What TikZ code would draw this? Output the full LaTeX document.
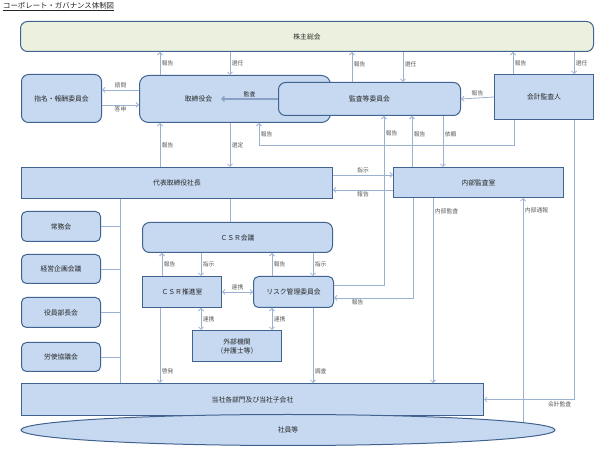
\documentclass[tikz,border=0pt]{standalone}
\usepackage{fontspec}
\setmainfont{Noto Sans CJK JP}
\usetikzlibrary{arrows.meta,shapes.geometric}
\pgfdeclarelayer{haikei}
\pgfsetlayers{haikei,main}
\definecolor{aoi}{HTML}{C6D9F1}
\definecolor{midori}{HTML}{EBF1DE}
\definecolor{waku}{HTML}{41638F}
\definecolor{senn}{HTML}{9BB1D1}
\definecolor{moji}{HTML}{262626}
\definecolor{usumoji}{HTML}{595959}
\begin{document}
\begin{tikzpicture}[
    x=1pt, y=-1pt,
    >={Straight Barb[length=2.5pt,width=5pt]},
    kaku/.style={draw=waku, fill=aoi, line width=1pt, anchor=north west, inner sep=1pt,
      font=\fontsize{6.8}{9}\selectfont, text=moji},
    maru/.style={kaku, rounded corners=7pt},
    komaru/.style={kaku, rounded corners=5pt},
    sen/.style={draw=senn, line width=0.8pt},
    ran/.style={font=\fontsize{5.8}{7}\selectfont, text=usumoji, inner sep=1.5pt}
  ]

    \useasboundingbox (0,0) rectangle (606,462);

    % --- Título ---
    \node[anchor=north west, inner sep=0pt, font=\fontsize{7.4}{9}\selectfont, text=moji]
      (midashi) at (3,2) {\underline{コーポレート・ガバナンス体制図}};

    % --- Cajas superiores ---
    \node[maru, fill=midori, minimum width=573pt, minimum height=30pt] (kabunushi) at (20,21) {株主総会};
    \node[maru, minimum width=80pt, minimum height=48pt] (shimei) at (21,74) {指名・報酬委員会};
    \node[maru, rounded corners=9pt, minimum width=191pt, minimum height=47pt] (torishimari) at (139,75)
      {取締役会\hspace*{73pt}};
    \node[maru, minimum width=182pt, minimum height=33pt] (kansa) at (278,82) {監査等委員会};
    \node[kaku, minimum width=99pt, minimum height=45pt] (kaikei) at (494,74) {会計監査人};

    % --- Ejecutivo ---
    \node[kaku, minimum width=311pt, minimum height=31pt] (daihyo) at (21,167) {代表取締役社長};
    \node[kaku, minimum width=170pt, minimum height=30pt] (naibu) at (393,167) {内部監査室};

    % Comités a la izquierda
    \node[komaru, minimum width=79pt, minimum height=30pt] (jomu) at (21,211) {常務会};
    \node[komaru, minimum width=79pt, minimum height=29pt] (keiei) at (21,254) {経営企画会議};
    \node[komaru, minimum width=79pt, minimum height=30pt] (yakuin) at (21,297) {役員部長会};
    \node[komaru, minimum width=79pt, minimum height=29pt] (roshi) at (21,342) {労使協議会};

    % CSR
    \node[maru, minimum width=190pt, minimum height=30pt] (csr) at (142,222) {ＣＳＲ会議};
    \node[kaku, minimum width=79pt, minimum height=31pt] (suishin) at (142,276) {ＣＳＲ推進室};
    \node[komaru, minimum width=80pt, minimum height=31pt] (risk) at (253,276) {リスク管理委員会};
    \node[kaku, minimum width=89pt, minimum height=31pt, align=center] (gaibu) at (192,330)
      {外部機関\\（弁護士等）};

    % --- Base ---
    \node[kaku, minimum width=462pt, minimum height=32pt] (tosha) at (21,383) {当社各部門及び当社子会社};
    \node[kaku, ellipse, anchor=center, minimum width=534pt, minimum height=31pt] (shain) at (288,430) {社員等};

    % --- Conexiones con 株主総会 ---
    \draw[sen,->] (torishimari.north -| 160,0) -- (kabunushi.south -| 160,0) node[ran, midway, right] {報告};
    \draw[sen,->] (kabunushi.south -| 230,0) -- (torishimari.north -| 230,0) node[ran, midway, right] {選任};
    \draw[sen,->] (kansa.north -| 352,0) -- (kabunushi.south -| 352,0) node[ran, pos=0.6, right] {報告};
    \draw[sen,->] (kabunushi.south -| 403,0) -- (kansa.north -| 403,0) node[ran, pos=0.4, right] {選任};
    \draw[sen,->] (kaikei.north -| 513,0) -- (kabunushi.south -| 513,0) node[ran, midway, right] {報告};
    \draw[sen,->] (kabunushi.south -| 574,0) -- (kaikei.north -| 574,0) node[ran, midway, right] {選任};

    % 諮問 / 答申
    \draw[sen,->] (torishimari.west |- 0,90) -- (shimei.east |- 0,90) node[ran, midway, above] {諮問};
    \draw[sen,->] (shimei.east |- 0,105) -- (torishimari.west |- 0,105) node[ran, midway, below] {答申};

    % 監査 (flecha gruesa)
    \draw[draw=senn!80!waku, line width=1.3pt, ->] (kansa.west) -- (torishimari.west -| 221,0)
      node[ran, midway, above, text=moji] {監査};
    \draw[sen,->] (kaikei.west) -- (kansa.east) node[ran, midway, above] {報告};

    % --- 取締役会 / 監査等委員会 abajo ---
    \draw[sen,->] (daihyo.north -| 160,0) -- (torishimari.south -| 160,0) node[ran, midway, right] {報告};
    \draw[sen,->] (torishimari.south -| 230,0) -- (daihyo.north -| 230,0) node[ran, midway, right] {選定};
    \draw[sen,->] (kaikei.south -| 514,0) -- ++(0,25) -| (torishimari.south -| 259,0)
      node[ran, pos=0.75, right] {報告};
    \draw[sen,->] (risk.east |- 0,285) -| (kansa.south -| 384,0) node[ran, pos=0.95, right] {報告};
    \draw[sen,->] (naibu.north -| 412,0) -- (kansa.south -| 412,0) node[ran, pos=0.65, right] {報告};
    \draw[sen,->] (kansa.south -| 443,0) -- (naibu.north -| 443,0) node[ran, pos=0.35, right] {依頼};

    % 代表取締役社長 <-> 内部監査室
    \draw[sen,->] (daihyo.east |- 0,175) -- (naibu.west |- 0,175) node[ran, midway, above] {指示};
    \draw[sen,->] (naibu.west |- 0,190) -- (daihyo.east |- 0,190) node[ran, midway, below] {報告};
    \draw[sen,->] (naibu.south -| 413,0) |- (risk.east |- 0,298) node[ran, pos=0.85, below] {報告};
    \draw[sen,->] (naibu.south -| 433,0) -- (tosha.north -| 433,0) node[ran, pos=0.07, right] {内部監査};
    \begin{pgfonlayer}{haikei}
      \draw[sen,->] (shain.center -| 523,0) -- (naibu.south -| 523,0) node[ran, pos=0.945, right] {内部通報};
    \end{pgfonlayer}
    \draw[sen,->] (kaikei.south -| 574,0) |- (tosha.east) node[ran, pos=0.58, below] {会計監査};

    % Barra izquierda
    \draw[sen] (daihyo.south -| 120,0) -- (tosha.north -| 120,0);
    \foreach \n in {jomu,keiei,yakuin,roshi}
      \draw[sen] (\n.east) -- (\n.east -| 120,0);

    % --- CSR ---
    \draw[sen] (daihyo.south -| 230,0) -- (csr.north -| 230,0);
    \draw[sen,->] (suishin.north -| 162,0) -- (csr.south -| 162,0) node[ran, midway, right] {報告};
    \draw[sen,->] (csr.south -| 201,0) -- (suishin.north -| 201,0) node[ran, midway, right] {指示};
    \draw[sen,->] (risk.north -| 272,0) -- (csr.south -| 272,0) node[ran, midway, right] {報告};
    \draw[sen,->] (csr.south -| 313,0) -- (risk.north -| 313,0) node[ran, midway, right] {指示};
    \draw[sen,<->] (suishin.east) -- (risk.west) node[ran, midway, above] {連携};
    \draw[sen,<->] (suishin.south -| 201,0) -- (gaibu.north -| 201,0) node[ran, midway, right] {連携};
    \draw[sen,<->] (risk.south -| 272,0) -- (gaibu.north -| 272,0) node[ran, midway, right] {連携};
    \draw[sen,->] (suishin.south -| 160,0) -- (tosha.north -| 160,0) node[ran, pos=0.85, right] {啓発};
    \draw[sen,->] (risk.south -| 313,0) -- (tosha.north -| 313,0) node[ran, pos=0.85, right] {調査};

  \end{tikzpicture}
\end{document}
